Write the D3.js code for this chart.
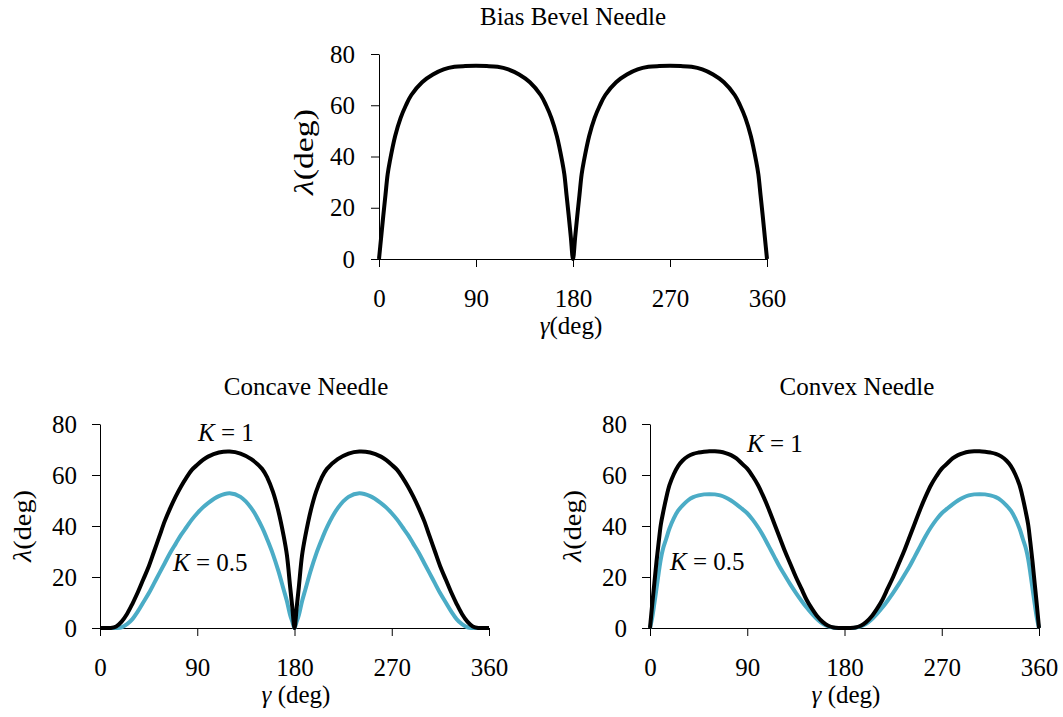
<!DOCTYPE html>
<meta charset="utf-8">
<style>
  body {
    margin: 0;
    background: #fff;
  }

  svg {
    display: block;
  }

  text {
    font-family: "Liberation Serif", "Times New Roman", serif;
    fill: #000;
  }

  .axis path,
  .axis line {
    stroke: #000;
    stroke-width: 1px;
  }

  .axis text {
    font-size: 25px;
  }

  .curve {
    fill: none;
    stroke-width: 4px;
    stroke-linejoin: round;
  }
</style>
<body>
  <div id="chart"></div>
  <script src="https://d3js.org/d3.v7.min.js"></script>
  <script>

var width = 1063,
    height = 717;

var xTicks = [0, 90, 180, 270, 360];
var yTicks = [0, 20, 40, 60, 80];

// Bias bevel needle
var bevelGamma = [0, 2, 4, 6, 8, 10, 15, 20, 25, 30, 40, 50, 60, 70, 80, 90, 100, 110, 120, 130, 140, 150, 155, 160, 165, 170, 172, 174, 176, 178, 180,
  182, 184, 186, 188, 190, 195, 200, 205, 210, 220, 230, 240, 250, 260, 270, 280, 290, 300, 310, 320, 330, 335, 340, 345, 350, 352, 354, 356, 358, 360];
var bevelLambda = [0, 8.5, 17, 25, 33, 38, 48, 55, 60, 64, 69, 72, 74, 75, 75.3, 75.4, 75.3, 75, 74, 72, 69, 64, 60, 55, 48, 38, 33, 25, 17, 8.5, 0,
  8.5, 17, 25, 33, 38, 48, 55, 60, 64, 69, 72, 74, 75, 75.3, 75.4, 75.3, 75, 74, 72, 69, 64, 60, 55, 48, 38, 33, 25, 17, 8.5, 0];

// Concave needle
var concaveGamma = [0, 5, 10, 15, 20, 25, 30, 35, 40, 45, 50, 55, 60, 65, 70, 75, 80, 85, 90, 95, 100, 110, 120, 130, 140, 150, 155, 160, 165, 170, 173, 176, 178, 180,
  182, 184, 187, 190, 195, 200, 205, 210, 220, 230, 240, 250, 260, 265, 270, 275, 280, 285, 290, 295, 300, 305, 310, 315, 320, 325, 330, 335, 340, 345, 350, 355, 360];
var concaveK1 = [0, 0, 0, 0.6, 2.5, 5.5, 9.5, 14, 19, 24, 30, 36, 42, 47, 51.5, 55.5, 59, 62, 64, 65.8, 67.2, 68.8, 69.2, 68.4, 66.2, 62.4, 58.8, 53.5, 46, 36, 28.5, 16, 8, 0,
  8, 16, 28.5, 36, 46, 53.5, 58.8, 62.4, 66.2, 68.4, 69.2, 68.8, 67.2, 65.8, 64, 62, 59, 55.5, 51.5, 47, 42, 36, 30, 24, 19, 14, 9.5, 5.5, 2.5, 0.6, 0, 0, 0];
var concaveK05 = [0, 0, 0, 0, 0.3, 1.5, 3.5, 6.5, 10, 13.5, 17.5, 21.5, 25.5, 29.5, 33, 36.5, 39.5, 42.5, 45, 47.2, 49, 51.7, 52.8, 51.4, 47, 39.5, 34.5, 29, 22.5, 15, 10.5, 5, 2.5, 0,
  2.5, 5, 10.5, 15, 22.5, 29, 34.5, 39.5, 47, 51.4, 52.8, 51.7, 49, 47.2, 45, 42.5, 39.5, 36.5, 33, 29.5, 25.5, 21.5, 17.5, 13.5, 10, 6.5, 3.5, 1.5, 0.3, 0, 0, 0, 0];

// Convex needle
var convexGamma = [0, 2, 4, 6, 8, 10, 12, 15, 18, 22, 26, 30, 35, 40, 45, 50, 55, 60, 65, 70, 75, 80, 85, 90, 95, 100, 105, 110, 115, 120, 125, 130, 135, 140, 145, 150, 155, 160, 165, 170, 175, 180,
  185, 190, 195, 200, 205, 210, 215, 220, 225, 230, 235, 240, 245, 250, 255, 260, 265, 270, 275, 280, 285, 290, 295, 300, 305, 310, 315, 320, 325, 330, 334, 338, 342, 345, 348, 350, 352, 354, 356, 358, 360];
var convexK1 = [0, 9, 17.5, 26, 33.5, 40.5, 45, 51, 56, 60.3, 63.5, 65.6, 67.3, 68.3, 68.8, 69.1, 69.3, 69.3, 69.1, 68.6, 67.8, 66.5, 64.5, 62.5, 59.5, 56, 51.5, 46.5, 41, 35.5, 30, 25, 20, 15.5, 11, 7.5, 4.5, 2.3, 0.9, 0.2, 0, 0,
  0, 0.2, 0.9, 2.3, 4.5, 7.5, 11, 15.5, 20, 25, 30, 35.5, 41, 46.5, 51.5, 56, 59.5, 62.5, 64.5, 66.5, 67.8, 68.6, 69.1, 69.3, 69.3, 69.1, 68.8, 68.3, 67.3, 65.6, 63.5, 60.3, 56, 51, 45, 40.5, 33.5, 26, 17.5, 9, 0];
var convexK05 = [0, 4, 9.5, 15.5, 21.5, 27, 31, 35, 39, 43, 46, 48, 50, 51.3, 52, 52.4, 52.5, 52.4, 52, 51.2, 50, 48.5, 46.8, 45, 42.5, 39.5, 36, 32, 28, 24, 20.5, 17, 13.8, 10.8, 8, 5.5, 3.3, 1.6, 0.6, 0.1, 0, 0,
  0, 0.1, 0.6, 1.6, 3.3, 5.5, 8, 10.8, 13.8, 17, 20.5, 24, 28, 32, 36, 39.5, 42.5, 45, 46.8, 48.5, 50, 51.2, 52, 52.4, 52.5, 52.4, 52, 51.3, 50, 48, 46, 43, 39, 35, 31, 27, 21.5, 15.5, 9.5, 4, 0];

var black = "#000000",
    blue = "#4bacc6";

var svg = d3.select("#chart")
  .append("svg")
  .attr("width", width)
  .attr("height", height);

function zip(xs, ys) {
  return xs.map(function(x, i) { return [x, ys[i]]; });
}

function plainText(s) {
  s.attr("font-family", null).attr("font-size", null);
  s.selectAll("text").attr("font-family", null).attr("font-size", null);
}

// one panel: plot box in pixels, title, axis label spots
function addPanel(p) {
  var x = d3.scaleLinear().domain([0, 360]).range([p.left, p.right]);
  var y = d3.scaleLinear().domain([0, 80]).range([p.bottom, p.top]);

  var g = svg.append("g");

  g.append("g")
    .attr("class", "axis")
    .attr("transform", "translate(0," + p.bottom + ")")
    .call(d3.axisBottom(x).tickValues(xTicks).tickSizeInner(8).tickSizeOuter(0).tickPadding(22))
    .call(plainText);

  g.append("g")
    .attr("class", "axis")
    .attr("transform", "translate(" + p.left + ",0)")
    .call(d3.axisLeft(y).tickValues(yTicks).tickSizeInner(8).tickSizeOuter(0).tickPadding(p.yPad))
    .call(plainText);

  var line = d3.line()
    .x(function(d) { return x(d[0]); })
    .y(function(d) { return y(d[1]); })
    .curve(d3.curveCatmullRom.alpha(0.5));

  p.series.forEach(function(s) {
    g.append("path")
      .attr("class", "curve")
      .attr("stroke", s.color)
      .attr("d", line(zip(s.gamma, s.lambda)));
  });

  g.append("text")
    .attr("x", p.titleX)
    .attr("y", p.titleY)
    .attr("text-anchor", "middle")
    .attr("font-size", 25)
    .text(p.title);

  var xl = g.append("text")
    .attr("x", p.xLabelX)
    .attr("y", p.xLabelY)
    .attr("text-anchor", "middle")
    .attr("font-size", 25);
  xl.append("tspan").attr("font-style", "italic").text("γ");
  xl.append("tspan").text(p.xGap + "(deg)");

  // the y titles are drawn a little wider than the other texts
  var yl = g.append("text")
    .attr("transform", "translate(" + p.yLabelX + "," + p.yLabelY + ") rotate(-90)")
    .attr("text-anchor", "middle")
    .attr("font-size", p.yLabelSize)
    .attr("textLength", p.yLabelLen)
    .attr("lengthAdjust", "spacingAndGlyphs");
  yl.append("tspan").attr("font-style", "italic").text("λ");
  yl.append("tspan").text("(deg)");

  (p.notes || []).forEach(function(n) {
    var t = g.append("text")
      .attr("x", n.x)
      .attr("y", n.y)
      .attr("font-size", 25);
    t.append("tspan").attr("font-style", "italic").text("K");
    t.append("tspan").text(" = " + n.k);
  });
}

addPanel({
  left: 379, right: 767, top: 54, bottom: 259, yPad: 16,
  title: "Bias Bevel Needle", titleX: 573, titleY: 25,
  xLabelX: 571, xLabelY: 334, xGap: "",
  yLabelX: 313, yLabelY: 152, yLabelSize: 28, yLabelLen: 86,
  series: [{gamma: bevelGamma, lambda: bevelLambda, color: black}]
});

addPanel({
  left: 100, right: 489, top: 424, bottom: 628, yPad: 15,
  title: "Concave Needle", titleX: 306, titleY: 395,
  xLabelX: 296, xLabelY: 703, xGap: " ",
  yLabelX: 31, yLabelY: 526, yLabelSize: 26, yLabelLen: 72,
  series: [
    {gamma: concaveGamma, lambda: concaveK05, color: blue},
    {gamma: concaveGamma, lambda: concaveK1, color: black}
  ],
  notes: [{x: 198, y: 441, k: "1"}, {x: 173, y: 571, k: "0.5"}]
});

addPanel({
  left: 650, right: 1039, top: 424, bottom: 628, yPad: 15,
  title: "Convex Needle", titleX: 857, titleY: 395,
  xLabelX: 846, xLabelY: 703, xGap: " ",
  yLabelX: 581, yLabelY: 526, yLabelSize: 26, yLabelLen: 72,
  series: [
    {gamma: convexGamma, lambda: convexK05, color: blue},
    {gamma: convexGamma, lambda: convexK1, color: black}
  ],
  notes: [{x: 747, y: 452, k: "1"}, {x: 670, y: 570, k: "0.5"}]
});

  </script>
</body>
